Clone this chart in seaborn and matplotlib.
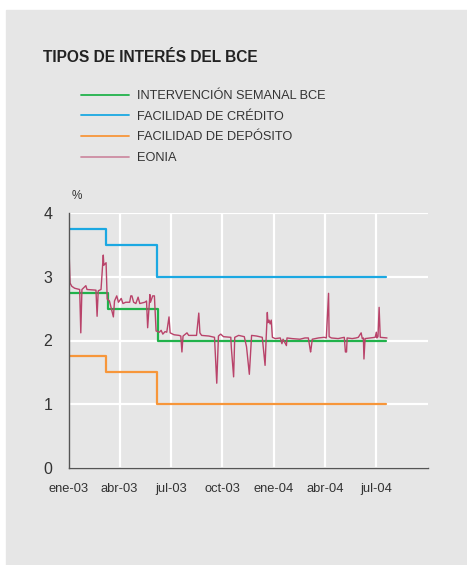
import matplotlib
matplotlib.use("Agg")
import matplotlib.pyplot as plt
import matplotlib.patches as mpatches
import seaborn as sns
import pandas as pd

# ECB official rates (step changes), last date closes the series
step_dates = ["2003-01-01", "2003-03-07", "2003-06-06", "2004-07-19"]
mro_dates = ["2003-01-01", "2003-03-12", "2003-06-09", "2004-07-19"]
credito = [3.75, 3.50, 3.00, 3.00]
deposito = [1.75, 1.50, 1.00, 1.00]
intervencion = [2.75, 2.50, 2.00, 2.00]

# EONIA
eonia_dates = [
    "2003-01-01", "2003-01-03", "2003-01-06", "2003-01-11", "2003-01-20", "2003-01-22",
    "2003-01-24", "2003-01-31", "2003-02-02", "2003-02-18", "2003-02-20", "2003-02-22",
    "2003-02-27", "2003-03-03", "2003-03-04", "2003-03-08", "2003-03-10", "2003-03-14",
    "2003-03-21", "2003-03-23", "2003-03-27", "2003-03-30", "2003-04-04", "2003-04-07",
    "2003-04-12", "2003-04-19", "2003-04-21", "2003-04-23", "2003-04-26", "2003-04-30",
    "2003-05-04", "2003-05-07", "2003-05-16", "2003-05-19", "2003-05-21", "2003-05-25",
    "2003-05-26", "2003-05-30", "2003-06-02", "2003-06-05", "2003-06-11", "2003-06-14",
    "2003-06-17", "2003-06-21", "2003-06-24", "2003-06-28", "2003-06-30", "2003-07-07",
    "2003-07-16", "2003-07-19", "2003-07-21", "2003-07-23", "2003-07-30", "2003-08-02",
    "2003-08-16", "2003-08-20", "2003-08-22", "2003-08-25", "2003-09-07", "2003-09-17",
    "2003-09-21", "2003-09-24", "2003-09-28", "2003-10-03", "2003-10-16", "2003-10-17",
    "2003-10-21", "2003-10-23", "2003-10-30", "2003-11-09", "2003-11-13", "2003-11-18",
    "2003-11-22", "2003-12-01", "2003-12-11", "2003-12-16", "2003-12-18", "2003-12-20",
    "2003-12-21", "2003-12-23", "2003-12-25", "2003-12-27", "2003-12-29", "2004-01-03",
    "2004-01-12", "2004-01-15", "2004-01-17", "2004-01-23", "2004-01-24", "2004-02-02",
    "2004-02-16", "2004-02-25", "2004-03-02", "2004-03-06", "2004-03-07", "2004-03-09",
    "2004-03-20", "2004-03-30", "2004-04-03", "2004-04-07", "2004-04-08", "2004-04-12",
    "2004-04-24", "2004-05-05", "2004-05-07", "2004-05-09", "2004-05-10", "2004-05-19",
    "2004-05-26", "2004-05-30", "2004-06-04", "2004-06-06", "2004-06-08", "2004-06-09",
    "2004-06-11", "2004-06-20", "2004-06-29", "2004-07-01", "2004-07-02", "2004-07-04",
    "2004-07-06", "2004-07-08", "2004-07-20",
]
eonia = [
    3.42, 2.90, 2.85, 2.82, 2.80, 2.12,
    2.80, 2.86, 2.80, 2.79, 2.38, 2.78,
    2.80, 3.34, 3.18, 3.22, 2.65, 2.62,
    2.37, 2.62, 2.70, 2.60, 2.66, 2.58,
    2.60, 2.60, 2.70, 2.70, 2.60, 2.58,
    2.68, 2.58, 2.60, 2.62, 2.20, 2.72,
    2.60, 2.70, 2.70, 2.15, 2.13, 2.16,
    2.10, 2.14, 2.13, 2.37, 2.12, 2.09,
    2.08, 2.07, 1.82, 2.07, 2.12, 2.08,
    2.08, 2.43, 2.12, 2.08, 2.07, 2.05,
    1.33, 2.07, 2.10, 2.06, 2.05, 1.88,
    1.43, 2.05, 2.08, 2.06, 1.90, 1.47,
    2.08, 2.07, 2.05, 1.61, 2.05, 2.44,
    2.28, 2.32, 2.26, 2.32, 2.05, 2.03,
    2.04, 1.95, 2.02, 1.92, 2.04, 2.03,
    2.02, 2.04, 2.04, 1.82, 1.88, 2.02,
    2.04, 2.05, 2.04, 2.74, 2.06, 2.04,
    2.03, 2.05, 1.82, 1.82, 2.04, 2.03,
    2.04, 2.05, 2.12, 2.03, 2.04, 1.71,
    2.03, 2.04, 2.05, 2.13, 2.04, 2.06,
    2.52, 2.05, 2.04,
]

tick_dates = ["2003-01-01", "2003-04-01", "2003-07-01", "2003-10-01",
              "2004-01-01", "2004-04-01", "2004-07-01"]
tick_labels = ["ene-03", "abr-03", "jul-03", "oct-03", "ene-04", "abr-04", "jul-04"]

labels = ["INTERVENCIÓN SEMANAL BCE", "FACILIDAD DE CRÉDITO",
          "FACILIDAD DE DEPÓSITO", "EONIA"]
colors = ["#21b24b", "#1ba8e2", "#f7963a", "#b9436a"]

bg = "#e6e6e6"
txt = "#333333"

sns.set_theme(style="white")
plt.rcParams["font.family"] = ["Liberation Sans", "DejaVu Sans"]

fig = plt.figure(figsize=(4.67, 5.65), dpi=100, facecolor="white")
fig.patches.append(mpatches.Rectangle((6 / 467, 0), 1, 1 - 10 / 565,
                                      transform=fig.transFigure, color=bg, zorder=-10))
ax = fig.add_axes([69 / 467, 1 - 468 / 565, (428 - 69) / 467, (468 - 213) / 565])
ax.set_facecolor(bg)

steps = pd.DataFrame({"fecha": pd.to_datetime(step_dates), "credito": credito,
                      "deposito": deposito})
mro = pd.DataFrame({"fecha": pd.to_datetime(mro_dates), "tipo": intervencion})
eo = pd.DataFrame({"fecha": pd.to_datetime(eonia_dates), "tipo": eonia})

sns.lineplot(data=mro, x="fecha", y="tipo", ax=ax, color=colors[0], lw=1.6,
             drawstyle="steps-post", label=labels[0], zorder=3)
sns.lineplot(data=steps, x="fecha", y="credito", ax=ax, color=colors[1], lw=1.6,
             drawstyle="steps-post", label=labels[1], zorder=3)
sns.lineplot(data=steps, x="fecha", y="deposito", ax=ax, color=colors[2], lw=1.6,
             drawstyle="steps-post", label=labels[2], zorder=3)
sns.lineplot(data=eo, x="fecha", y="tipo", ax=ax, color=colors[3], lw=1.0,
             label=labels[3], zorder=4)

ax.set_xlim(pd.Timestamp("2003-01-01"), pd.Timestamp("2004-10-01"))
ax.set_ylim(0, 4)
ax.set_yticks([0, 1, 2, 3, 4])
ax.set_xticks(pd.to_datetime(tick_dates))
ax.set_xticklabels(tick_labels)
ax.set_xlabel("")
ax.set_ylabel("")
ax.grid(True, color="white", lw=1.6)
ax.set_axisbelow(True)
for s in ["top", "right"]:
    ax.spines[s].set_visible(False)
for s in ["left", "bottom"]:
    ax.spines[s].set_color("#555555")
    ax.spines[s].set_linewidth(1.0)
    ax.spines[s].set_zorder(5)
ax.tick_params(axis="y", length=0, pad=12, labelsize=11.5, labelcolor=txt)
ax.tick_params(axis="x", length=0, pad=11, labelsize=9.3, labelcolor=txt)

handles, lbls = ax.get_legend_handles_labels()
leg = ax.legend(handles, lbls, loc="upper left", bbox_to_anchor=(81 / 467, 1 - 90 / 565),
                bbox_transform=fig.transFigure, frameon=False, fontsize=9.2,
                handlelength=3.75, handletextpad=0.65, labelspacing=0.68,
                borderpad=0, borderaxespad=0, labelcolor=txt)
for h in leg.get_lines():
    h.set_linewidth(1.3)
leg.get_lines()[3].set_alpha(0.55)

fig.text(43 / 467, 1 - 57 / 565, "TIPOS DE INTERÉS DEL BCE", fontsize=11.2,
         fontweight="bold", color="#222222", va="center", ha="left")
fig.text(72 / 467, 1 - 196 / 565, "%", fontsize=8.5, color=txt, va="center", ha="left")

fig.savefig("out.png", dpi=100, facecolor="white")
